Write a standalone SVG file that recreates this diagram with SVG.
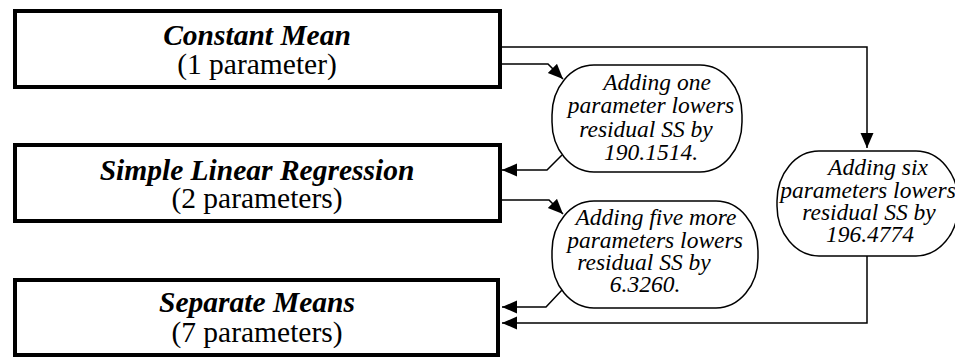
<svg xmlns="http://www.w3.org/2000/svg" width="955" height="359" viewBox="0 0 955 359">
<style>
.box{fill:#fff;stroke:#000;stroke-width:4}
.bub{fill:#fff;stroke:#000;stroke-width:1.5}
text{font-family:'Liberation Serif','Times New Roman','DejaVu Serif',serif;fill:#000;text-anchor:middle}
.t1{font-size:29.5px;font-weight:bold;font-style:italic}
.t2{font-size:29.5px}
.bt{font-size:23.5px;font-style:italic}
.con{fill:none;stroke:#000;stroke-width:1.5}
</style>
<defs>
<marker id="ah" markerUnits="userSpaceOnUse" markerWidth="16" markerHeight="14" refX="15" refY="6.5" orient="auto">
<path d="M0,0 L15,6.5 L0,13 z" fill="#000"/>
</marker>
</defs>
<rect width="955" height="359" fill="#fff"/>
<g id="connectors">
<path class="con" d="M500,47 H867 V148" marker-end="url(#ah)"/>
<path class="con" d="M500,64 H548 L563,79" marker-end="url(#ah)"/>
<path class="con" d="M562,155 L547,170 H502" marker-end="url(#ah)"/>
<path class="con" d="M500,200 H549 L563,214" marker-end="url(#ah)"/>
<path class="con" d="M562,290 L546,307 H502" marker-end="url(#ah)"/>
<path class="con" d="M867,256 V323 H502" marker-end="url(#ah)"/>
</g>
<g id="constant-mean">
<rect class="box" x="15" y="11" width="485" height="76"/>
<text class="t1" x="257" y="45">Constant Mean</text>
<text class="t2" x="257" y="74">(1 parameter)</text>
</g>
<g id="simple-linear-regression">
<rect class="box" x="15" y="145" width="485" height="76"/>
<text class="t1" x="257" y="180">Simple Linear Regression</text>
<text class="t2" x="257" y="208">(2 parameters)</text>
</g>
<g id="separate-means">
<rect class="box" x="15" y="280" width="483" height="75"/>
<text class="t1" x="257" y="312">Separate Means</text>
<text class="t2" x="257" y="342">(7 parameters)</text>
</g>
<g id="bubble-one">
<rect class="bub" x="552" y="65" width="190" height="107" rx="42" ry="50"/>
<text class="bt" x="657" y="90">Adding one</text>
<text class="bt" x="651" y="113">parameter lowers</text>
<text class="bt" x="646" y="137">residual SS by</text>
<text class="bt" x="651" y="160">190.1514.</text>
</g>
<g id="bubble-five">
<rect class="bub" x="552" y="201" width="206" height="107" rx="42" ry="50"/>
<text class="bt" x="656" y="225">Adding five more</text>
<text class="bt" x="655" y="248">parameters lowers</text>
<text class="bt" x="644" y="270">residual SS by</text>
<text class="bt" x="645" y="292">6.3260.</text>
</g>
<g id="bubble-six">
<rect class="bub" x="777" y="151" width="181" height="105" rx="42" ry="50"/>
<text class="bt" x="878" y="175">Adding six</text>
<text class="bt" x="868" y="198">parameters lowers</text>
<text class="bt" x="869" y="220">residual SS by</text>
<text class="bt" x="870" y="242">196.4774</text>
</g>
</svg>
